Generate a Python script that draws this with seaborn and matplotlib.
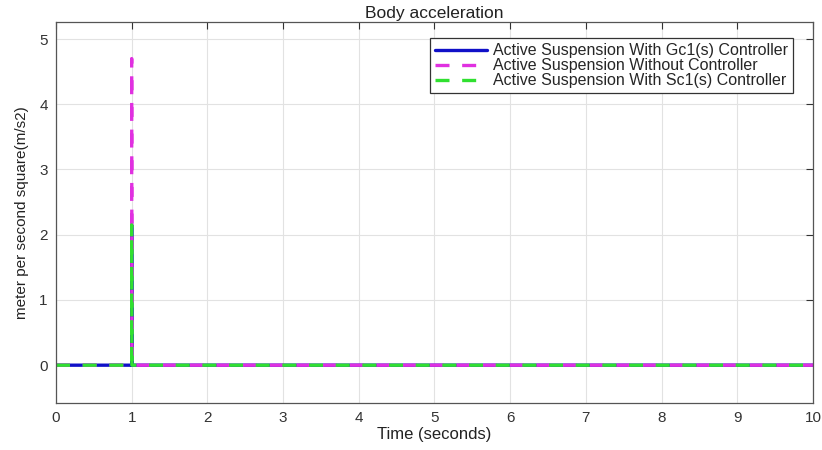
import numpy as np
import pandas as pd
import matplotlib
matplotlib.use("Agg")
import matplotlib.pyplot as plt
import seaborn as sns

# Data
time = [0.0, 1.0, 1.0, 1.003, 10.0]
gc1_controller = [0.0, 0.0, 2.15, 0.0, 0.0]
without_controller = [0.0, 0.0, 4.7, 0.0, 0.0]
sc1_controller = [0.0, 0.0, 2.15, 0.0, 0.0]

labels = ["Active Suspension With Gc1(s) Controller",
          "Active Suspension Without Controller",
          "Active Suspension With Sc1(s) Controller"]
colors = ["#1010c8", "#e030e0", "#30e030"]
series = [gc1_controller, without_controller, sc1_controller]

sns.set_theme(style="white")
plt.rcParams['font.family'] = ['Liberation Sans', 'DejaVu Sans']

fig = plt.figure(figsize=(8.22, 4.5), dpi=100)
ax = fig.add_axes([0.0681, 0.1044, 0.9209, 0.8466])

for lab, col, vals in zip(labels, colors, series):
    df = pd.DataFrame({"t": time, "v": vals})
    sns.lineplot(data=df, x="t", y="v", ax=ax, color=col, lw=2.4,
                 label=lab, sort=False, estimator=None)

lines = ax.get_lines()
lines[1].set_dashes([4.2, 3.8])
lines[2].set_dashes([4.2, 3.8])

ax.set_xlim(0, 10)
ax.set_ylim(-0.58, 5.26)
ax.set_xticks(range(0, 11))
ax.set_yticks(range(0, 6))
ax.grid(True, color="#e2e2e2", lw=0.8)
ax.tick_params(direction="in", length=5, width=0.8, colors="#333333",
               labelsize=11, top=True, right=True, pad=6)
for s in ax.spines.values():
    s.set_color("#555555")
    s.set_linewidth(0.9)
ax.set_title("Body acceleration", fontsize=12.5, color="#222222", pad=3)
ax.set_xlabel("Time (seconds)", fontsize=12, color="#222222", labelpad=1)
ax.set_ylabel("meter per second square(m/s2)", fontsize=11, color="#222222", labelpad=7)

leg = ax.legend(loc="upper right", bbox_to_anchor=(0.984, 0.978), fontsize=11.5,
                frameon=True, fancybox=False, framealpha=1, edgecolor="#333333",
                borderpad=0.3, labelspacing=0.0, handlelength=3.3, handletextpad=0.35)
leg.get_frame().set_linewidth(0.9)

fig.savefig("out.png", dpi=100)
